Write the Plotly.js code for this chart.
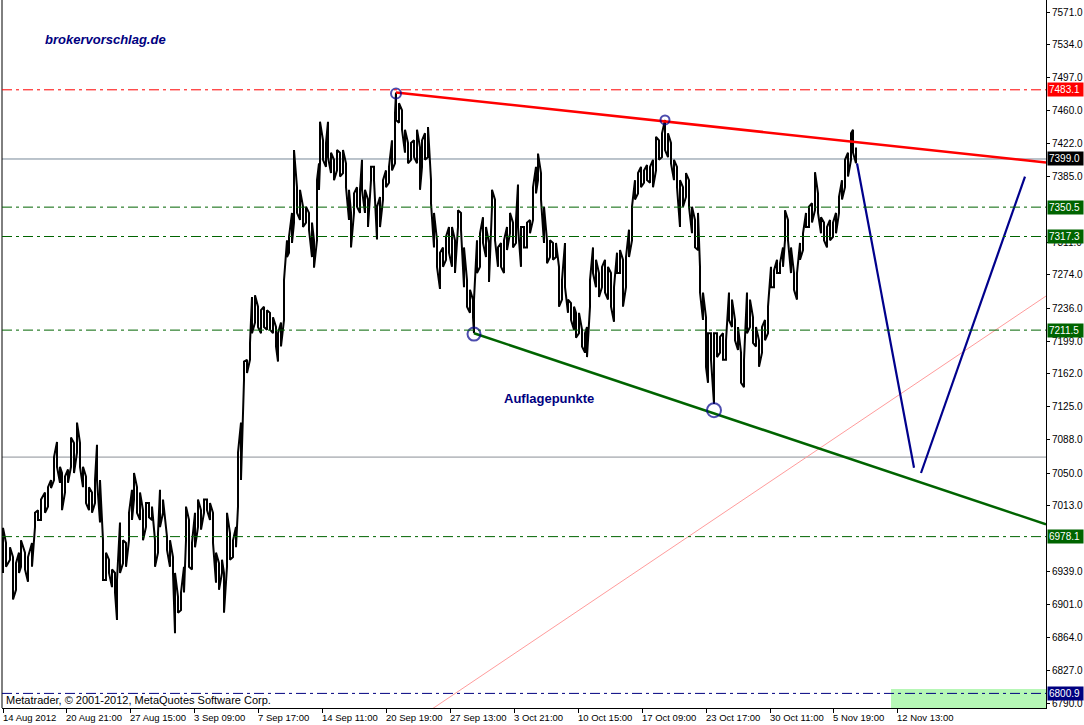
<!DOCTYPE html>
<html>
<head>
<meta charset="utf-8">
<script src="https://cdn.plot.ly/plotly-3.0.1.min.js"></script>
<style>html,body{margin:0;padding:0;background:#fff;}#chart{width:1084px;height:725px;}</style>
</head>
<body>
<div id="chart"></div>
<script>
// ---- x axis (bar index) and time labels ----
const tickBars = [3, 66, 130, 194, 258, 322, 386, 450, 514, 578, 642, 706, 770, 833, 897];
const tickLabels = ['14 Aug 2012','20 Aug 21:00','27 Aug 15:00','3 Sep 09:00','7 Sep 17:00','14 Sep 11:00','20 Sep 19:00','27 Sep 13:00','3 Oct 21:00','10 Oct 15:00','17 Oct 09:00','23 Oct 17:00','30 Oct 11:00','5 Nov 19:00','12 Nov 13:00'];

// ---- price axis labels ----
const priceTicks = [6790.0, 6827.0, 6864.0, 6901.0, 6939.0, 7013.0, 7050.0, 7088.0, 7125.0, 7162.0, 7199.0, 7236.0, 7274.0, 7311.0, 7385.0, 7422.0, 7460.0, 7497.0, 7534.0, 7571.0];

// ---- sampled H1 bars: bar index, high, low ----
const barIndex = [
 3,6,10,13,16,19,21,25,28,32,
 35,38,41,45,48,51,54,57,60,62,
 65,68,71,74,77,80,83,86,89,92,
 95,97,100,103,106,109,112,115,117,120,
 123,126,129,132,134,137,140,143,146,149,
 152,155,158,160,163,167,170,173,175,178,
 181,184,186,189,192,195,198,201,204,207,
 210,213,216,219,222,224,227,230,233,236,
 238,241,244,247,250,252,255,258,261,264,
 267,270,273,276,278,281,284,287,289,292,
 294,297,300,303,306,309,312,314,317,319,
 320,323,326,328,331,334,337,340,343,346,
 349,351,354,357,360,362,365,368,371,374,
 377,380,383,386,389,392,395,396,399,402,
 405,408,411,414,417,420,422,425,428,431,
 434,437,440,443,446,449,452,455,458,461,
 464,467,470,473,474,477,480,483,486,489,
 492,495,498,501,504,507,510,513,516,518,
 521,524,527,530,533,536,538,541,544,547,
 550,553,556,559,562,565,568,571,574,576,
 579,582,585,587,590,593,596,599,602,605,
 608,611,614,617,620,623,626,629,632,635,
 638,641,644,647,650,653,656,659,662,665,
 668,671,674,677,680,683,686,689,692,695,
 698,700,703,706,708,711,714,717,720,723,
 726,729,732,735,738,741,744,747,750,753,
 756,759,762,765,768,771,774,777,780,783,
 785,788,791,794,797,800,803,806,809,812,
 815,818,821,824,827,830,833,836,839,842,
 845,848,851,853,856];
const highs = [
 6988,6971,6966,6955,6948,6960,6974,6960,6955,6971,
 7005,7008,7020,7028,7034,7042,7068,7085,7057,7050,
 7046,7054,7090,7084,7107,7084,7057,7046,7034,7028,
 7042,7082,7042,6974,6960,6952,6941,6937,6929,6994,
 6974,6971,7005,7031,7050,7034,7028,7008,7016,7016,
 7012,6974,6982,7031,7020,6978,6974,6955,6937,6910,
 6915,6944,7012,6997,6971,7005,7020,7008,7020,7020,
 7016,7005,6960,6948,6952,6937,7005,6982,6974,6989,
 7073,7107,7176,7178,7197,7249,7251,7238,7234,7238,
 7234,7231,7226,7215,7208,7220,7268,7313,7317,7344,
 7415,7373,7370,7351,7351,7344,7333,7313,7381,7400,
 7447,7426,7423,7447,7412,7404,7415,7412,7415,7400,
 7370,7344,7366,7373,7370,7404,7370,7359,7396,7396,
 7351,7362,7381,7392,7396,7426,7457,7480,7468,7460,
 7438,7423,7423,7426,7438,7418,7426,7434,7441,7381,
 7344,7313,7299,7305,7317,7328,7328,7313,7347,7344,
 7305,7268,7257,7246,7246,7313,7321,7339,7328,7310,
 7370,7359,7305,7310,7313,7328,7344,7333,7336,7376,
 7328,7328,7333,7336,7373,7396,7411,7389,7351,7313,
 7313,7310,7310,7283,7268,7310,7246,7242,7238,7231,
 7231,7212,7208,7215,7268,7305,7291,7276,7283,7291,
 7283,7276,7260,7299,7302,7291,7294,7325,7351,7381,
 7389,7396,7392,7398,7396,7404,7430,7426,7434,7449,
 7434,7423,7404,7396,7381,7373,7389,7381,7351,7336,
 7344,7283,7254,7226,7208,7208,7208,7208,7204,7208,
 7200,7254,7246,7223,7215,7186,7178,7254,7246,7226,
 7215,7200,7215,7223,7238,7283,7279,7291,7287,7305,
 7347,7336,7305,7276,7276,7310,7321,7344,7351,7355,
 7390,7366,7339,7333,7328,7336,7333,7344,7362,7381,
 7404,7412,7434,7438,7418];
const lows = [
 6937,6944,6952,6907,6918,6937,6944,6941,6927,6944,
 6989,6997,6997,7005,7012,7033,7042,7057,7039,7008,
 7028,7039,7057,7050,7073,7057,7034,7016,7008,7005,
 7016,7042,6994,6929,6929,6937,6921,6915,6884,6937,
 6948,6944,6974,6997,7020,7005,6997,6974,6989,7000,
 6997,6944,6960,6989,7005,6963,6944,6937,6869,6892,
 6895,6915,6974,6944,6941,6966,6989,6986,7005,7008,
 6997,6971,6926,6918,6937,6892,6944,6952,6955,6966,
 7012,7042,7155,7163,7178,7208,7220,7215,7208,7215,
 7212,7212,7208,7193,7176,7193,7223,7294,7299,7310,
 7333,7344,7336,7328,7333,7325,7294,7282,7313,7370,
 7400,7404,7396,7407,7389,7381,7392,7385,7389,7373,
 7336,7305,7344,7351,7344,7370,7344,7328,7381,7381,
 7314,7328,7359,7373,7378,7392,7400,7449,7446,7438,
 7412,7400,7404,7407,7400,7370,7396,7404,7407,7355,
 7305,7283,7258,7283,7291,7299,7283,7276,7328,7325,
 7260,7238,7231,7226,7208,7276,7283,7310,7294,7266,
 7351,7313,7283,7283,7276,7302,7321,7305,7310,7328,
 7283,7305,7305,7321,7336,7366,7381,7359,7310,7287,
 7294,7291,7294,7238,7246,7260,7231,7223,7212,7203,
 7208,7193,7186,7181,7238,7276,7260,7249,7260,7254,
 7246,7238,7221,7276,7276,7238,7260,7294,7313,7359,
 7366,7373,7378,7381,7378,7373,7392,7404,7407,7415,
 7407,7400,7381,7373,7328,7351,7362,7351,7321,7305,
 7302,7254,7223,7170,7152,7178,7128,7181,7186,7178,
 7178,7223,7215,7200,7189,7152,7147,7208,7215,7197,
 7193,7170,7186,7200,7208,7260,7260,7276,7276,7283,
 7313,7313,7276,7257,7246,7291,7302,7328,7328,7333,
 7347,7344,7321,7313,7305,7313,7317,7321,7344,7359,
 7373,7385,7404,7412,7400];

// ---- drawn objects ----
const resistX = [396, 1046], resistY = [7480, 7401];
const supportX = [474, 1046], supportY = [7208, 6992];
const channelX = [433, 1046], channelY = [6784, 7250];
const forecastDownX = [857, 914], forecastDownY = [7400, 7056];
const forecastUpX = [921, 1025], forecastUpY = [7050, 7385];
const touchX = [396, 474, 665, 714];
const touchY = [7479, 7207, 7449, 7121];
const touchSize = [10, 13, 9, 14];

// horizontal levels
const levelValues = [7483.1, 7350.5, 7317.3, 7211.5, 6978.1, 6800.9];
const levelColors = ['#ff0000', '#006400', '#006400', '#006400', '#006400', '#000080'];
const bidLevel = 7404.9, bidText = '7399.0';
const grayLevel = 7068;
const futureZone = [891, 1046];

// ---- build price bars as dense zigzag ----
const px = [], py = [];
for (let i = 0; i < barIndex.length; i++) {
  px.push(barIndex[i], barIndex[i]);
  if (i % 2 === 0) { py.push(lows[i], highs[i]); } else { py.push(highs[i], lows[i]); }
}

const traces = [
  {x: px, y: py, type: 'scatter', mode: 'lines', line: {color: '#000', width: 2}, hoverinfo: 'skip'},
  {x: channelX, y: channelY, type: 'scatter', mode: 'lines', line: {color: '#ff9c9c', width: 1}, hoverinfo: 'skip'},
  {x: resistX, y: resistY, type: 'scatter', mode: 'lines', line: {color: '#ff0000', width: 2.5}, hoverinfo: 'skip'},
  {x: supportX, y: supportY, type: 'scatter', mode: 'lines', line: {color: '#006400', width: 2.5}, hoverinfo: 'skip'},
  {x: forecastDownX, y: forecastDownY, type: 'scatter', mode: 'lines', line: {color: '#00008c', width: 2.2}, hoverinfo: 'skip'},
  {x: forecastUpX, y: forecastUpY, type: 'scatter', mode: 'lines', line: {color: '#00008c', width: 2.2}, hoverinfo: 'skip'},
  {x: touchX, y: touchY, type: 'scatter', mode: 'markers', marker: {symbol: 'circle-open', size: touchSize, color: '#00008c', line: {width: 2, color: '#00008c'}}, hoverinfo: 'skip'}
];

const dashDot = '10px,4px,3px,4px';
const shapes = [
  {type: 'rect', xref: 'x', yref: 'paper', x0: futureZone[0], x1: futureZone[1], y0: 0, y1: 0.027, fillcolor: '#b6f7b6', line: {width: 0}, layer: 'below'},
  {type: 'line', xref: 'paper', yref: 'paper', x0: 0, x1: 0, y0: 0, y1: 1, line: {color: '#000', width: 1}},
  {type: 'line', xref: 'paper', yref: 'y', x0: 0, x1: 1, y0: bidLevel, y1: bidLevel, line: {color: '#778899', width: 1}, layer: 'below'},
  {type: 'line', xref: 'paper', yref: 'y', x0: 0, x1: 1, y0: grayLevel, y1: grayLevel, line: {color: '#8a8f96', width: 1}, layer: 'below'}
];
levelValues.forEach((v, i) => {
  shapes.push({type: 'line', xref: 'paper', yref: 'y', x0: 0, x1: 1, y0: v, y1: v, line: {color: levelColors[i], width: 1, dash: dashDot}});
});

const baseFont = 'Liberation Sans, Arial, sans-serif';
const boxFont = {family: baseFont, size: 10, color: '#fff'};
const annotations = [];
levelValues.forEach((v, i) => {
  annotations.push({xref: 'paper', x: 1, xanchor: 'left', xshift: 1, yref: 'y', y: v, yanchor: 'middle', text: v.toFixed(1), showarrow: false, font: boxFont, bgcolor: levelColors[i], borderpad: 1, width: 33, height: 11, align: 'left'});
});
annotations.push({xref: 'paper', x: 1, xanchor: 'left', xshift: 1, yref: 'y', y: bidLevel, yanchor: 'middle', text: bidText, showarrow: false, font: boxFont, bgcolor: '#000', borderpad: 1, width: 33, height: 11, align: 'left'});
// time labels, left-aligned at their ticks
tickBars.forEach((b, i) => {
  annotations.push({xref: 'x', x: b, xanchor: 'left', xshift: -1, yref: 'paper', y: 0, yanchor: 'top', yshift: -3, text: tickLabels[i], showarrow: false, font: {family: baseFont, size: 9.5, color: '#000'}, borderpad: 0});
});
annotations.push({xref: 'paper', x: 0, xanchor: 'left', xshift: 41, yref: 'paper', y: 1, yanchor: 'middle', yshift: -39, text: '<b><i>brokervorschlag.de</i></b>', showarrow: false, font: {family: baseFont, size: 13, color: '#000080'}});
annotations.push({xref: 'paper', x: 0, xanchor: 'left', xshift: 500, yref: 'paper', y: 1, yanchor: 'middle', yshift: -398, text: '<b>Auflagepunkte</b>', showarrow: false, font: {family: baseFont, size: 13, color: '#000080'}});
annotations.push({xref: 'paper', x: 0, xanchor: 'left', xshift: 2, yref: 'paper', y: 0, yanchor: 'bottom', yshift: 0, text: 'Metatrader, © 2001-2012, MetaQuotes Software Corp.', showarrow: false, font: {family: baseFont, size: 11, color: '#000'}});

const layout = {
  width: 1084, height: 725,
  margin: {l: 2, r: 38, t: 0, b: 17, pad: 0},
  paper_bgcolor: '#fff', plot_bgcolor: '#fff',
  showlegend: false,
  xaxis: {range: [2, 1046], showgrid: false, zeroline: false, showline: true, linecolor: '#000', linewidth: 1,
    ticks: 'outside', ticklen: 4, tickcolor: '#000', tickvals: tickBars, showticklabels: false, fixedrange: true},
  yaxis: {range: [6784.4, 7584.6], side: 'right', showgrid: false, zeroline: false, showline: true, linecolor: '#000', linewidth: 1,
    ticks: 'outside', ticklen: 3, tickcolor: '#000', tickvals: priceTicks, ticktext: priceTicks.map(v => v.toFixed(1)),
    tickfont: {family: baseFont, size: 10, color: '#000'}, fixedrange: true},
  shapes: shapes,
  annotations: annotations
};

Plotly.newPlot('chart', traces, layout, {displayModeBar: false, staticPlot: true});
</script>
</body>
</html>
